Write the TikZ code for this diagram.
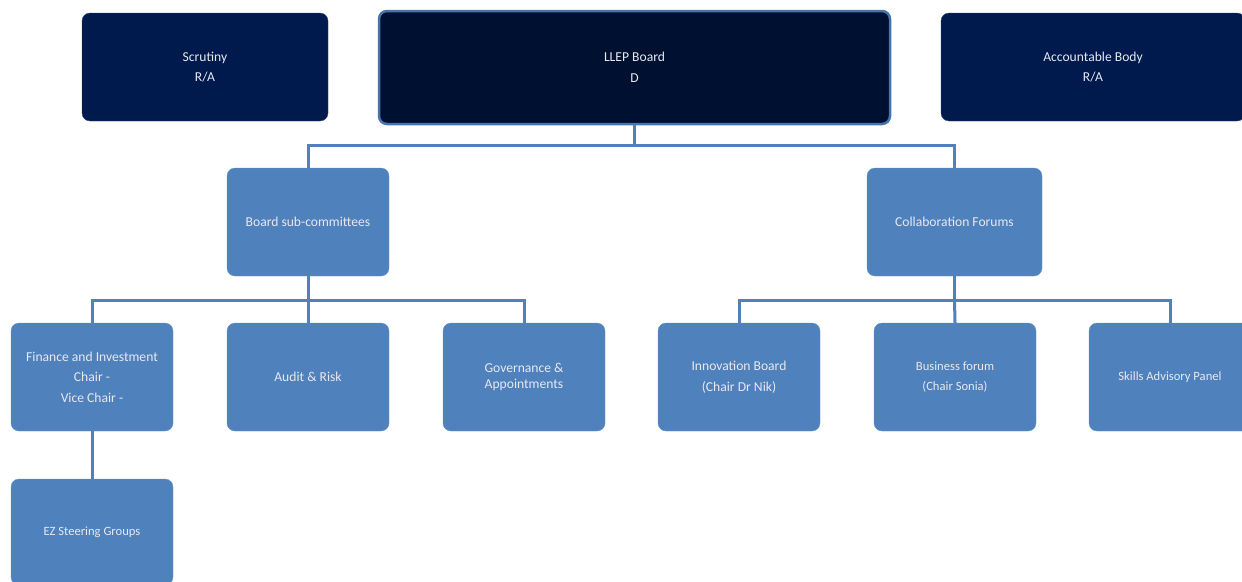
\documentclass[tikz,border=0pt]{standalone}
\usepackage{fontspec}
\setmainfont{Carlito}
\usepackage{tikz}

\definecolor{navybox}{HTML}{001A4D}
\definecolor{nightbox}{HTML}{001030}
\definecolor{midblue}{HTML}{4F81BD}
\definecolor{paletext}{HTML}{E8E8EE}

\tikzset{
  topbox/.style={rectangle, rounded corners=8pt, fill=navybox, draw=navybox!80!white,
    text=paletext, align=center, inner sep=0pt, font=\fontsize{13.6}{20.5}\selectfont},
  unitbox/.style={rectangle, rounded corners=8pt, fill=midblue, draw=midblue!85!white,
    text=paletext, align=center, inner sep=0pt, minimum width=162pt, minimum height=108pt,
    font=\fontsize{13.6}{20.5}\selectfont},
  smalltext/.style={font=\fontsize{12.6}{20.5}\selectfont},
  link/.style={draw=midblue, line width=3pt}
}

\begin{document}
\begin{tikzpicture}[x=1pt,y=-1pt]

  \useasboundingbox (0,0) rectangle (1242,581);

  % nodes
  \node[topbox, minimum width=246pt, minimum height=108pt] (scrutiny) at (205,67) {Scrutiny\\R/A};
  \node[topbox, fill=nightbox, draw=midblue!90!black, line width=2.5pt,
        minimum width=511pt, minimum height=113pt] (board) at (634.5,67.5) {LLEP Board\\D};
  \node[topbox, minimum width=304pt, minimum height=108pt] (accountable) at (1093,67) {Accountable Body\\R/A};

  \node[unitbox] (subcom) at (308,222) {Board sub-committees};
  \node[unitbox, minimum width=175pt] (collab) at (954.5,222) {Collaboration Forums};

  \node[unitbox] (finance) at (92,377) {Finance and Investment\\Chair -\\Vice Chair -};
  \node[unitbox] (audit) at (308,377) {Audit \& Risk};
  \node[unitbox] (governance) at (524,377) {Governance \&\\[-5pt]Appointments};
  \node[unitbox] (innovation) at (739,377) {Innovation Board\\(Chair Dr Nik)};
  \node[unitbox, smalltext] (business) at (955,377) {Business forum\\(Chair Sonia)};
  \node[unitbox, smalltext] (skills) at (1170,377) {Skills Advisory Panel};

  \node[unitbox, smalltext, minimum height=106pt] (ezgroups) at (92,532) {EZ Steering Groups};

  % split points
  \coordinate (topsplit) at (634.5,145);
  \coordinate (leftsplit) at (308,300);
  \coordinate (rightsplit) at (954.5,300);

  % connectors
  \draw[link] (board.south) -- (topsplit) -| (subcom.north);
  \draw[link] (topsplit) -| (collab.north);

  \draw[link] (subcom.south) -- (leftsplit) -| (finance.north);
  \draw[link] (leftsplit) -- (audit.north);
  \draw[link] (leftsplit) -| (governance.north);

  \draw[link] (collab.south) -- (rightsplit) -| (innovation.north);
  \draw[link] (rightsplit) -- (business.north);
  \draw[link] (rightsplit) -| (skills.north);

  \draw[link] (finance.south) -- (ezgroups.north);

\end{tikzpicture}
\end{document}
